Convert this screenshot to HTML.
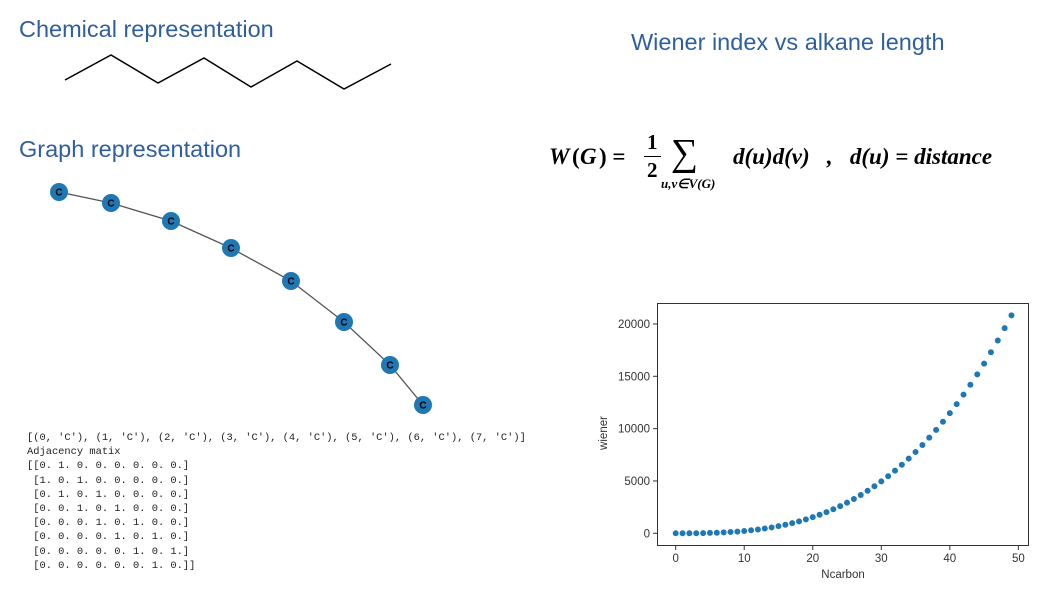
<!DOCTYPE html>
<html><head><meta charset="utf-8"><style>
body{margin:0;width:1058px;height:595px;background:#fff;position:relative;overflow:hidden;font-family:"Liberation Sans",sans-serif}
.t{position:absolute;color:#2f5f9e;font-size:23.5px}
.mono{position:absolute;left:27px;top:431px;font-family:"Liberation Mono",monospace;font-size:10.4px;line-height:14.2px;color:#222;white-space:pre}
.f{position:absolute;font-family:"Liberation Serif",serif;font-size:23px;font-style:italic;font-weight:bold;color:#000}
</style></head><body>
<div class="t" style="left:19px;top:16px">Chemical representation</div>
<div class="t" style="left:19px;top:136px">Graph representation</div>
<div class="t" style="left:631px;top:29px">Wiener index vs alkane length</div>
<svg style="position:absolute;left:0;top:0" width="420" height="120"><polyline points="65,80 111,55 158,83 204,58 251,87 297,61 344,89 391,64" fill="none" stroke="#000" stroke-width="1.5"/></svg>
<svg id="g" style="position:absolute;left:0;top:170px" width="460" height="260"></svg>
<div class="f" style="left:549px;top:140px;width:490px;height:60px">
<span style="position:absolute;left:0;top:4px">W</span><span style="position:absolute;left:23px;top:4px;font-style:normal">(</span><span style="position:absolute;left:31px;top:4px">G</span><span style="position:absolute;left:50px;top:4px;font-style:normal">) =</span>
<span style="position:absolute;left:98px;top:-10px;font-style:normal;font-size:21px">1</span><span style="position:absolute;left:95px;top:16px;width:17px;border-top:1.5px solid #000"></span><span style="position:absolute;left:98px;top:18px;font-style:normal;font-size:21px">2</span>
<span style="position:absolute;left:122px;top:-9px;font-style:normal;font-weight:normal;font-size:38px">∑</span><span style="position:absolute;left:112px;top:36px;font-size:13px">u,v∈V(G)</span>
<span style="position:absolute;left:184px;top:4px">d(u)d(v) &nbsp;&nbsp;, &nbsp;&nbsp;d(u) = distance</span>
</div>
<div class="mono">[(0, 'C'), (1, 'C'), (2, 'C'), (3, 'C'), (4, 'C'), (5, 'C'), (6, 'C'), (7, 'C')]
Adjacency matix
[[0. 1. 0. 0. 0. 0. 0. 0.]
 [1. 0. 1. 0. 0. 0. 0. 0.]
 [0. 1. 0. 1. 0. 0. 0. 0.]
 [0. 0. 1. 0. 1. 0. 0. 0.]
 [0. 0. 0. 1. 0. 1. 0. 0.]
 [0. 0. 0. 0. 1. 0. 1. 0.]
 [0. 0. 0. 0. 0. 1. 0. 1.]
 [0. 0. 0. 0. 0. 0. 1. 0.]]</div>
<svg id="c" style="position:absolute;left:0;top:0" width="1058" height="595" font-family="Liberation Sans, sans-serif" font-size="11.5" fill="#333"></svg>
<script>
const ncarbon=[0,1,2,3,4,5,6,7,8,9,10,11,12,13,14,15,16,17,18,19,20,21,22,23,24,25,26,27,28,29,30,31,32,33,34,35,36,37,38,39,40,41,42,43,44,45,46,47,48,49];
const wiener=[0,1,4,10,20,35,56,84,120,165,220,286,364,455,560,680,816,969,1140,1330,1540,1771,2024,2300,2600,2925,3276,3654,4060,4495,4960,5456,5984,6545,7140,7770,8436,9139,9880,10660,11480,12341,13244,14190,15180,16215,17296,18424,19600,20825];
const xTicks=[0,10,20,30,40,50];
const yTicks=[0,5000,10000,15000,20000];
const nodes=[[59,22],[111,33],[171,51],[231,78],[291,111],[344,152],[390,195],[423,235]];
const NS="http://www.w3.org/2000/svg";
function mk(p,t,a){const e=document.createElementNS(NS,t);for(const k in a)e.setAttribute(k,a[k]);p.appendChild(e);return e;}
const g=document.getElementById('g');
const pl=mk(g,'polyline',{points:nodes.map(n=>n.join(',')).join(' '),fill:'none',stroke:'#555','stroke-width':1.3});


nodes.forEach((n,i)=>{const c=mk(g,'circle',{cx:n[0],cy:n[1],r:9,fill:'#1f77b4'});


const t=mk(g,'text',{x:n[0],y:n[1]+3.5,'text-anchor':'middle','font-size':10,'font-weight':'bold','font-family':'Liberation Sans, sans-serif',fill:'#000'});t.textContent='C';});
const svg=document.getElementById('c');
const X=v=>675.7+v*6.853, Y=v=>533.3-v*0.010467;
const fr=mk(svg,'rect',{x:657.5,y:303.5,width:371,height:242,fill:'none',stroke:'#333','stroke-width':1});


xTicks.forEach(v=>{mk(svg,'line',{x1:X(v),x2:X(v),y1:546,y2:550,stroke:'#333'});const t=mk(svg,'text',{x:X(v),y:562,'text-anchor':'middle'});t.textContent=v;

});
yTicks.forEach(v=>{mk(svg,'line',{x1:653,x2:657,y1:Y(v),y2:Y(v),stroke:'#333'});const t=mk(svg,'text',{x:650,y:Y(v)+4,'text-anchor':'end'});t.textContent=v;

});
const xl=mk(svg,'text',{x:843,y:578,'text-anchor':'middle'});xl.textContent='Ncarbon';


const yl=mk(svg,'text',{x:0,y:0,'text-anchor':'middle',transform:'translate(607,433) rotate(-90)'});yl.textContent='wiener';


ncarbon.forEach((n,i)=>{const c=mk(svg,'circle',{cx:X(n),cy:Y(wiener[i]),r:3.3,fill:'#1f77b4',stroke:'#fff','stroke-width':0.6});

});
</script>
</body></html>
